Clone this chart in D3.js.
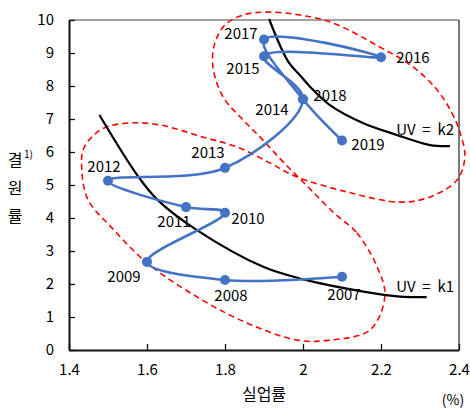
<!DOCTYPE html>
<html><head><meta charset="utf-8">
<script src="https://cdn.jsdelivr.net/npm/d3@7"></script>
<style>
html,body{margin:0;padding:0;background:#fff;}
svg text{font-family:"Noto Sans CJK KR","Noto Sans",sans-serif;fill:#000;}
</style></head>
<body><svg id="chart" width="470" height="409"></svg>
<script>
// ---- data ----
const years = [2007,2008,2009,2010,2011,2012,2013,2014,2015,2016,2017,2018,2019];
const unemployment = [2.1,1.8,1.6,1.8,1.7,1.5,1.8,2.0,1.9,2.2,1.9,2.0,2.1];
const vacancy = [2.22,2.12,2.67,4.16,4.33,5.13,5.52,7.6,8.9,8.87,9.41,7.6,6.35];
const xTicks = [1.4,1.6,1.8,2,2.2,2.4];
const yTicks = [0,1,2,3,4,5,6,7,8,9,10];
// UV = k1 curve (unemployment, vacancy)
const curveK1x = [1.478,1.576,1.627,1.727,1.898,2.001,2.155,2.249,2.317];
const curveK1y = [7.12,5.28,4.55,3.64,2.52,2.14,1.77,1.62,1.60];
// UV = k2 curve
const curveK2x = [1.913,1.962,1.992,2.018,2.069,2.155,2.240,2.326,2.377];
const curveK2y = [10.03,8.74,8.33,7.98,7.42,6.87,6.52,6.21,6.18];
// red dashed figure-eight outline (data units)
const outlineX = [2.077,2.138,2.190,2.210,2.172,2.069,1.985,1.856,1.728,1.600,1.510,1.449,1.433,1.438,1.485,1.556,1.633,1.744,1.831,1.915,1.979,2.113,2.249,2.326,2.395,2.415,2.403,2.382,2.344,2.282,2.197,2.077,1.992,1.908,1.846,1.800,1.774,1.769,1.795,1.844,1.895,1.949,2.013];
const outlineY = [4.18,3.55,2.52,1.64,0.61,0.30,0.30,0.82,1.61,2.64,3.70,4.55,5.45,6.12,6.70,6.88,6.82,6.45,6.15,5.67,5.27,4.79,4.48,4.64,5.15,5.85,6.58,7.18,7.88,8.58,9.18,9.91,10.15,10.24,10.15,9.85,9.30,8.58,7.67,7.00,6.39,5.70,4.94];
const curveLabels = ["UV = k1","UV = k2"];
const xTitle = "실업률", unitLabel = "(%)";
const yTitleChars = ["결","원","률"], yTitleNote = "1)";

// ---- layout ----
const svg = d3.select("#chart");
const W = 470, H = 409;
const m = {left:69, top:20, right:11, bottom:59};
const x = d3.scaleLinear().domain([1.4,2.4]).range([m.left, W-m.right]);
const y = d3.scaleLinear().domain([0,10]).range([H-m.bottom, m.top]);

// frame (top/right thin)
svg.append("line").attr("x1",x(1.4)).attr("x2",x(2.4)).attr("y1",y(10)).attr("y2",y(10)).attr("stroke","#444").attr("stroke-width",1.2);
svg.append("line").attr("x1",x(2.4)).attr("x2",x(2.4)).attr("y1",y(10)).attr("y2",y(0)).attr("stroke","#222").attr("stroke-width",1.2);

// axes
const fs = 15;
const xAxis = svg.append("g").attr("transform",`translate(0,${y(0)})`)
  .call(d3.axisBottom(x).tickValues(xTicks).tickSizeInner(-6).tickSizeOuter(0).tickPadding(14).tickFormat(d=>d3.format("")(d)));
const yAxis = svg.append("g").attr("transform",`translate(${x(1.4)},0)`)
  .call(d3.axisLeft(y).tickValues(yTicks).tickSizeInner(-6).tickSizeOuter(0).tickPadding(15));
[xAxis,yAxis].forEach(g=>{
  g.select(".domain").attr("stroke","#111").attr("stroke-width",2);
  g.selectAll(".tick line").attr("stroke","#111").attr("stroke-width",1.3);
  g.selectAll(".tick text").attr("font-size",fs).attr("font-family",'"Noto Sans CJK KR","Noto Sans",sans-serif').attr("fill","#222");
});

// red dashed outline
const outline = outlineX.map((v,i)=>[v,outlineY[i]]);
svg.append("path").datum(outline)
  .attr("d", d3.line().x(d=>x(d[0])).y(d=>y(d[1])).curve(d3.curveCatmullRomClosed.alpha(0.5)))
  .attr("fill","none").attr("stroke","#ff0000").attr("stroke-width",1.6).attr("stroke-dasharray","6,4");

// black UV curves
[[curveK1x,curveK1y],[curveK2x,curveK2y]].forEach(([cx,cy])=>{
  svg.append("path").datum(cx.map((v,i)=>[v,cy[i]]))
    .attr("d", d3.line().x(d=>x(d[0])).y(d=>y(d[1])).curve(d3.curveCatmullRom.alpha(0.5)))
    .attr("fill","none").attr("stroke","#000").attr("stroke-width",2.2);
});

// blue series
const pts = years.map((yr,i)=>({year:yr,u:unemployment[i],v:vacancy[i]}));
svg.append("path").datum(pts)
  .attr("d", d3.line().x(d=>x(d.u)).y(d=>y(d.v)).curve(d3.curveCatmullRom.alpha(0.5)))
  .attr("fill","none").attr("stroke","#4472c4").attr("stroke-width",2.6);
svg.selectAll("circle.pt").data(pts).enter().append("circle")
  .attr("cx",d=>x(d.u)).attr("cy",d=>y(d.v)).attr("r",5).attr("fill","#4472c4");

// labels (pixel offsets from points)
const off = {2007:[2,23],2008:[6,21],2009:[-23,20],2010:[23,11],2011:[-12,20],2012:[-4,-9],2013:[-17,-10],
  2014:[-31,16],2015:[-21,18],2016:[32,6],2017:[-23,0],2018:[27,2],2019:[26,9.5]};
svg.selectAll("text.lbl").data(pts).enter().append("text")
  .attr("x",d=>x(d.u)+off[d.year][0]).attr("y",d=>y(d.v)+off[d.year][1])
  .attr("text-anchor","middle").attr("font-size",fs).attr("fill","#000").text(d=>d.year);

// curve labels
svg.append("text").attr("x",x(2.4)-5).attr("y",y(1.75)).attr("text-anchor","end").attr("font-size",fs).attr("fill","#000").attr("xml:space","preserve").text(curveLabels[0].replace(/ /g,"  "));
svg.append("text").attr("x",x(2.4)-5).attr("y",y(6.52)).attr("text-anchor","end").attr("font-size",fs).attr("fill","#000").attr("xml:space","preserve").text(curveLabels[1].replace(/ /g,"  "));

// axis titles
svg.append("text").attr("x",(x(1.4)+x(2.4))/2).attr("y",400).attr("text-anchor","middle").attr("font-size",16).attr("fill","#111").text(xTitle);
svg.append("text").attr("x",x(2.4)-6).attr("y",405).attr("text-anchor","middle").attr("font-size",14).attr("fill","#111").text(unitLabel);
const yt = svg.append("g");
yTitleChars.forEach((c,i)=>{
  yt.append("text").attr("x",15).attr("y",166+i*28).attr("text-anchor","middle").attr("font-size",16).attr("fill","#111").text(c);
});
yt.append("text").attr("x",24).attr("y",158).attr("font-size",10).attr("fill","#111").text(yTitleNote);
</script></body></html>
